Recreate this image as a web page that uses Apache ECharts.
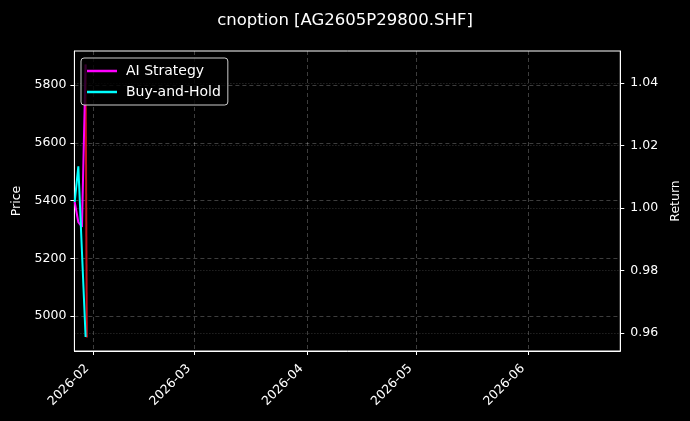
<!DOCTYPE html>
<html>
<head>
<meta charset="utf-8">
<script src="https://cdn.jsdelivr.net/npm/echarts@6/dist/echarts.min.js"></script>
<style>
html,body{margin:0;padding:0;background:#000;}
#c{width:690px;height:421px;}
</style>
</head>
<body>
<div id="c"></div>
<script>
// ---- data ----
const titleText = 'cnoption [AG2605P29800.SHF]';
const stratDates = ['2026-01-27', '2026-01-28', '2026-01-29', '2026-01-30'];
const aiStrategy = [1.002, 0.9955, 0.994, 1.046];
const buyHold = [1.002, 1.0134, 0.986, 0.9588];
const priceDates = ['2026-01-30 00:00', '2026-01-30 08:00'];
const priceValues = [5871, 4926];
const xRange = ['2026-01-26 22:00', '2026-06-26 07:00'];
const monthTicks = ['2026-02-01', '2026-03-01', '2026-04-01', '2026-05-01', '2026-06-01'];
const priceTicks = [5000, 5200, 5400, 5600, 5800];
const priceRange = [4879, 5918];
const returnTicks = [0.96, 0.98, 1.00, 1.02, 1.04];
const returnRange = [0.9543, 1.0503];

function ts(s) {
  const m = s.match(/(\d+)-(\d+)-(\d+)(?:\s+(\d+):(\d+))?/);
  return Date.UTC(+m[1], +m[2] - 1, +m[3], m[4] ? +m[4] : 0, m[5] ? +m[5] : 0);
}
function pad(n) { return (n < 10 ? '0' : '') + n; }

const FONT = 'DejaVu Sans';
const TXT = '#ffffff';
const chart = echarts.init(document.getElementById('c'), null, {renderer: 'canvas'});
const monthVals = monthTicks.map(ts);

chart.setOption({
  backgroundColor: '#000000',
  animation: false,
  textStyle: {fontFamily: FONT},
  title: {
    text: titleText, left: 'center', top: 7,
    textStyle: {color: TXT, fontSize: 16.5, fontWeight: 'normal', fontFamily: FONT}
  },
  legend: {
    orient: 'vertical', left: 81, top: 58,
    padding: [6, 7, 6, 6], itemGap: 7, itemWidth: 30, itemHeight: 2.5,
    icon: 'rect',
    backgroundColor: 'rgba(0,0,0,0.8)', borderColor: '#cccccc', borderWidth: 1, borderRadius: 3,
    textStyle: {color: TXT, fontSize: 14, fontFamily: FONT, padding: [0, 0, 0, 4]},
    data: ['AI Strategy', 'Buy-and-Hold']
  },
  grid: {left: 74.4, right: 69.7, top: 51, bottom: 70, show: true, borderColor: '#ffffff', borderWidth: 1, backgroundColor: 'transparent'},
  xAxis: {
    type: 'value', min: ts(xRange[0]), max: ts(xRange[1]),
    axisLine: {show: true, onZero: false, lineStyle: {color: '#ffffff', width: 1}},
    axisTick: {show: true, customValues: monthVals, length: 4, lineStyle: {color: '#ffffff'}},
    axisLabel: {
      customValues: monthVals, rotate: 45, color: TXT, fontSize: 12.5, fontFamily: FONT, margin: 10,
      padding: [0, 8, 0, 0],
      formatter: function (v) { const d = new Date(v); return d.getUTCFullYear() + '-' + pad(d.getUTCMonth() + 1); }
    },
    splitLine: {show: true, lineStyle: {color: 'rgba(255,255,255,0.3)', type: [4, 3], width: 0.8}}
  },
  yAxis: [
    {
      type: 'value', position: 'left', min: priceRange[0], max: priceRange[1],
      name: 'Price', nameLocation: 'middle', nameGap: 50, nameRotate: 90,
      nameTextStyle: {color: TXT, fontSize: 12.5, fontFamily: FONT},
      axisLine: {show: true, lineStyle: {color: '#ffffff'}},
      axisTick: {show: true, customValues: priceTicks, length: 4, lineStyle: {color: '#ffffff'}},
      axisLabel: {customValues: priceTicks, color: TXT, fontSize: 12.5, fontFamily: FONT, margin: 8,
        formatter: function (v) { return String(v); }},
      splitLine: {show: true, lineStyle: {color: 'rgba(255,255,255,0.3)', type: [4, 3], width: 0.8}}
    },
    {
      type: 'value', position: 'right', min: returnRange[0], max: returnRange[1],
      name: 'Return', nameLocation: 'middle', nameGap: 45, nameRotate: 90,
      nameTextStyle: {color: TXT, fontSize: 12.5, fontFamily: FONT},
      axisLine: {show: true, lineStyle: {color: '#ffffff'}},
      axisTick: {show: true, customValues: returnTicks, length: 4, lineStyle: {color: '#ffffff'}},
      axisLabel: {customValues: returnTicks, color: TXT, fontSize: 12.5, fontFamily: FONT, margin: 10,
        formatter: function (v) { return v.toFixed(2); }},
      splitLine: {show: true, lineStyle: {color: 'rgba(255,255,255,0.25)', type: [1, 2], width: 0.8}}
    }
  ],
  series: [
    {
      name: 'Price', type: 'line', yAxisIndex: 0, z: 1, symbol: 'none',
      lineStyle: {color: 'rgba(235,20,30,0.85)', width: 2},
      data: priceDates.map((d, i) => [ts(d), priceValues[i]])
    },
    {
      name: 'AI Strategy', type: 'line', yAxisIndex: 1, z: 3, symbol: 'none',
      itemStyle: {color: '#ff00ff'},
      lineStyle: {color: '#ff00ff', width: 2},
      data: stratDates.map((d, i) => [ts(d), aiStrategy[i]])
    },
    {
      name: 'Buy-and-Hold', type: 'line', yAxisIndex: 1, z: 3, symbol: 'none',
      itemStyle: {color: '#00ffff'},
      lineStyle: {color: '#00ffff', width: 2},
      data: stratDates.map((d, i) => [ts(d), buyHold[i]])
    }
  ]
});
</script>
</body>
</html>
